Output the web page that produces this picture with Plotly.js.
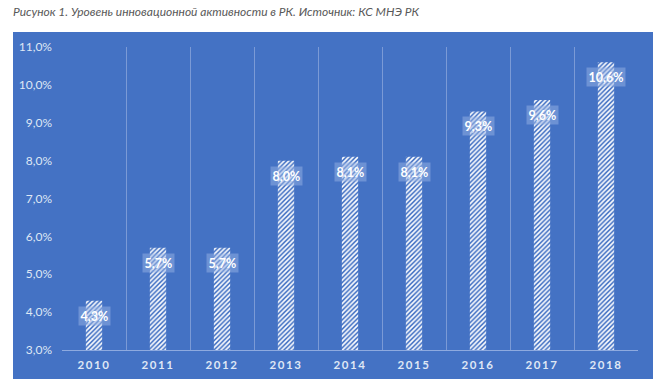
<!DOCTYPE html>
<html>
<head>
<meta charset="utf-8">
<script src="https://cdn.plot.ly/plotly-3.0.1.min.js"></script>
<style>
html,body{margin:0;padding:0;background:#fff;}
#chart{width:665px;height:392px;}
#chart .xtick text{letter-spacing:1.6px;}
</style>
</head>
<body>
<div id="chart"></div>
<script>
const years = ["2010","2011","2012","2013","2014","2015","2016","2017","2018"];
const values = [4.3, 5.7, 5.7, 8.0, 8.1, 8.1, 9.3, 9.6, 10.6];
const labels = ["4,3%","5,7%","5,7%","8,0%","8,1%","8,1%","9,3%","9,6%","10,6%"];
const yTickVals = [3, 4, 5, 6, 7, 8, 9, 10, 11];
const yTickText = ["3,0%","4,0%","5,0%","6,0%","7,0%","8,0%","9,0%","10,0%","11,0%"];
const titleText = "Рисунок 1. Уровень инновационной активности в РК. Источник: КС МНЭ РК";

const panelBlue = "#4472c4";
const lightText = "#dfe7f5";
const fontFam = "Lato, 'Liberation Sans', sans-serif";

const trace = {
  type: "bar",
  x: years,
  y: values,
  marker: {
    color: panelBlue,
    line: {width: 0},
    pattern: {shape: "/", fgcolor: "#ffffff", bgcolor: panelBlue, size: 3.3, solidity: 0.5}
  },
  hoverinfo: "skip"
};

const annotations = years.map((yr, i) => ({
  x: i, y: values[i], xref: "x", yref: "y",
  text: "<b>" + labels[i] + "</b>",
  showarrow: false,
  yanchor: "top",
  yshift: -5,
  font: {family: fontFam, size: 12.5, color: "#ffffff"},
  bgcolor: "rgba(150,178,228,0.5)",
  borderpad: 1.5
}));

const layout = {
  width: 665, height: 392,
  margin: {l: 62, r: 27, t: 47, b: 42},
  paper_bgcolor: "#ffffff",
  plot_bgcolor: "rgba(0,0,0,0)",
  showlegend: false,
  bargap: 0.745,
  title: {
    text: "<i>" + titleText + "</i>",
    x: 13/665, xref: "container", xanchor: "left",
    y: 1 - 12/392, yref: "container", yanchor: "middle",
    font: {family: fontFam, size: 12, color: "#595959"}
  },
  shapes: [{
    type: "rect", xref: "paper", yref: "paper", layer: "below",
    x0: (13-62)/576, x1: (653-62)/576,
    y0: (350-379)/303, y1: (350-32)/303,
    fillcolor: panelBlue, line: {width: 0}
  }],
  xaxis: {
    type: "category",
    range: [-0.5, 8.5],
    tickson: "boundaries",
    showgrid: true, gridcolor: "#7b9ad6", gridwidth: 1,
    showline: true, linecolor: "#8eaadf", linewidth: 1,
    ticks: "", ticklabelstandoff: 4,
    tickfont: {family: fontFam, size: 11.5, color: lightText, weight: "bold"},
    fixedrange: true, zeroline: false
  },
  yaxis: {
    range: [3, 11],
    tickmode: "array",
    tickvals: yTickVals, ticktext: yTickText,
    showgrid: false, zeroline: false, showline: false,
    ticks: "", ticklabelstandoff: 9,
    tickfont: {family: fontFam, size: 12, color: lightText},
    fixedrange: true
  },
  annotations: annotations
};

Plotly.newPlot("chart", [trace], layout, {displayModeBar: false, staticPlot: true});
</script>
</body>
</html>
